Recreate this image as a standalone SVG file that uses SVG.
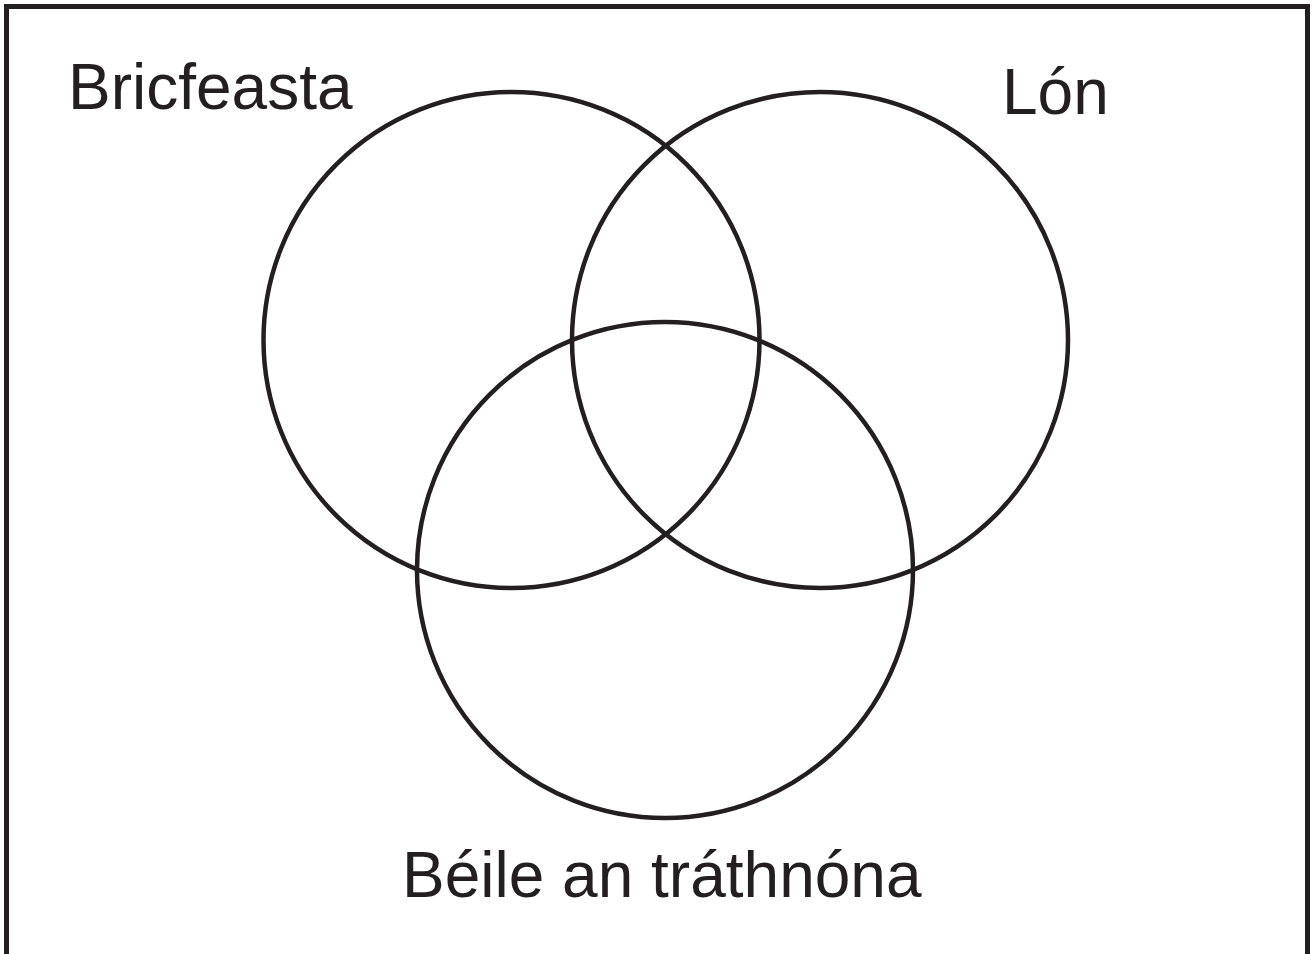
<svg xmlns="http://www.w3.org/2000/svg" width="1314" height="954" viewBox="0 0 1314 954">
<style>
.c{fill:none;stroke:#231f20;stroke-width:4.5}
.t{font-family:"Liberation Sans",Arial,sans-serif;font-size:64px;fill:#231f20}
</style>
<rect width="1314" height="954" fill="#fff"/>
<path d="M6.5 960 V6.5 H1307.5 V960" fill="none" stroke="#231f20" stroke-width="5"/>
<g id="breakfast"><circle class="c" cx="511.5" cy="340" r="248"/><text class="t" x="68" y="109">Bricfeasta</text></g>
<g id="lunch"><circle class="c" cx="820" cy="340" r="248"/><text class="t" x="1002" y="114">Lón</text></g>
<g id="dinner"><circle class="c" cx="665" cy="570" r="248"/><text class="t" x="402" y="897">Béile an tráthnóna</text></g>
<g id="connectors"/>
</svg>
